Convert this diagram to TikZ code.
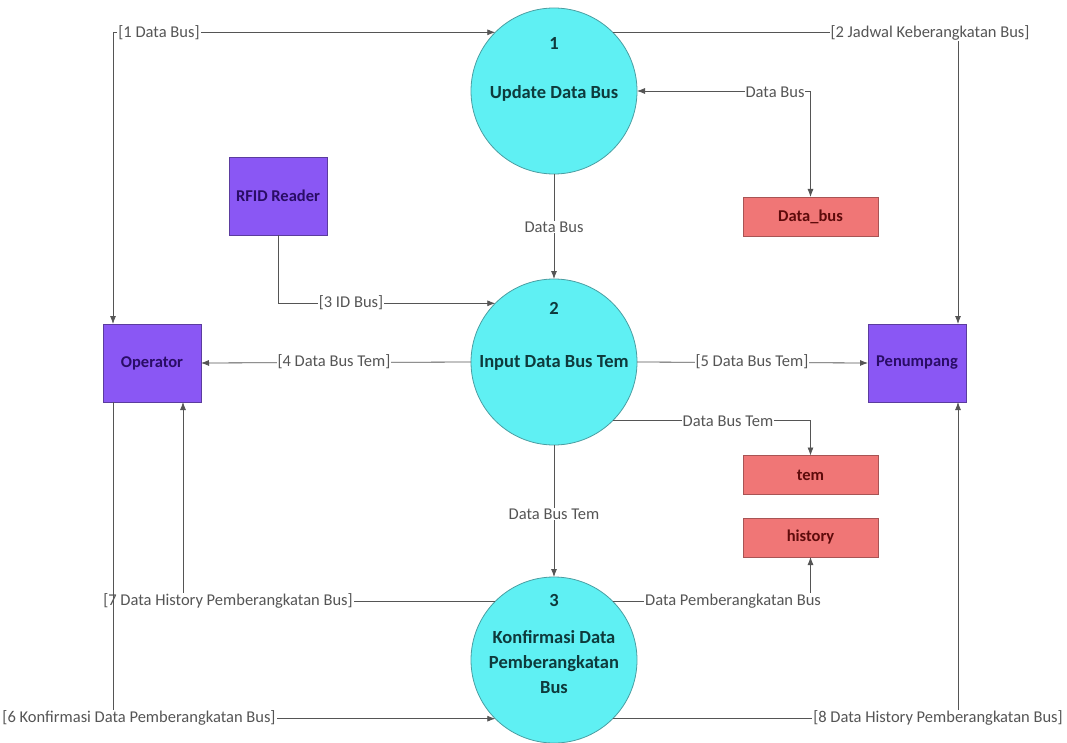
\documentclass[tikz,border=0pt]{standalone}
\usepackage{fontspec}
\setmainfont{Carlito}
\usetikzlibrary{arrows.meta,calc}
\definecolor{procfill}{HTML}{5FF0F3}
\definecolor{procline}{HTML}{4A9EA2}
\definecolor{proctext}{HTML}{0E3A3C}
\definecolor{entfill}{HTML}{8A57F4}
\definecolor{entline}{HTML}{5B3C9E}
\definecolor{enttext}{HTML}{2A0D66}
\definecolor{storefill}{HTML}{F07676}
\definecolor{storeline}{HTML}{A85454}
\definecolor{storetext}{HTML}{5E0B0B}
\definecolor{flow}{HTML}{555555}
\begin{document}
\begin{tikzpicture}[x=1pt,y=-1pt,
  process/.style={circle, draw=procline, fill=procfill, line width=0.8pt,
    minimum size=166pt, inner sep=0pt, outer sep=0pt},
  ptext/.style={font=\bfseries\fontsize{18.5}{25}\selectfont, text=proctext, align=center},
  entity/.style={rectangle, draw=entline, fill=entfill, line width=0.8pt,
    minimum width=98pt, minimum height=78pt, inner sep=0pt, outer sep=0pt,
    font=\bfseries\fontsize{16.5}{19}\selectfont, text=enttext},
  store/.style={rectangle, draw=storeline, fill=storefill, line width=0.8pt,
    minimum width=135pt, minimum height=39pt, inner sep=0pt, outer sep=0pt,
    font=\bfseries\fontsize{16.5}{19}\selectfont, text=storetext},
  flowline/.style={draw=flow, line width=0.8pt},
  tip/.style={-{Latex[length=8pt,width=6pt]}},
  tips/.style={{Latex[length=8pt,width=6pt]}-{Latex[length=8pt,width=6pt]}},
  lbl/.style={fill=white, inner sep=1pt, text=flow, font=\fontsize{16.5}{19}\selectfont}]

\useasboundingbox[fill=white] (0,0) rectangle (1067,743);

% processes
\node[process] (c1) at (554,91) {};
\node[process] (c2) at (554,362) {};
\node[process] (c3) at (554,660) {};
\node[ptext] (t1n) at (554,43) {1};
\node[ptext] (t1) at (554,93) {Update Data Bus};
\node[ptext] (t2n) at (554,308) {2};
\node[ptext] (t2) at (554,363) {Input Data Bus Tem};
\node[ptext] (t3n) at (554,600) {3};
\node[ptext] (t3) at (554,662) {Konfirmasi Data\\Pemberangkatan\\Bus};

% external entities
\node[entity] (rfid) at (278,196) {RFID Reader};
\node[entity] (op) at (152,363) {Operator};
\node[entity] (pen) at (917,363) {Penumpang};

% data stores
\node[store] (db) at (810.5,216.5) {Data\_bus};
\node[store] (tem) at (810.5,475) {tem};
\node[store] (hist) at (810.5,537.5) {history};

% flows
\draw[flowline,tips] ([xshift=10pt]op.north west) |- (c1.135);
\node[lbl] (f1) at (159,33) {[1 Data Bus]};

\draw[flowline,tip] (c1.45) -| ([xshift=-8pt]pen.north east);
\node[lbl] (f2) at (930,33) {[2 Jadwal Keberangkatan Bus]};

\draw[flowline,tips] (c1.east) -| (db.north);
\node[lbl] (f3) at (775,92) {Data Bus};

\draw[flowline,tip] (c1.south) -- (c2.north);
\node[lbl] (f4) at (554,227) {Data Bus};

\draw[flowline,tip] (rfid.south) |- (c2.135);
\node[lbl] (f5) at (351,303) {[3 ID Bus]};

\draw[flowline,tip] (c2.west) -- (op.east);
\node[lbl] (f6) at (334,362) {[4 Data Bus Tem]};

\draw[flowline,tip] (c2.east) -- (pen.west);
\node[lbl] (f7) at (752,362) {[5 Data Bus Tem]};

\draw[flowline,tip] (c2.-45) -| (tem.north);
\node[lbl] (f8) at (728,421) {Data Bus Tem};

\draw[flowline,tip] (c2.south) -- (c3.north);
\node[lbl] (f9) at (554,514) {Data Bus Tem};

\draw[flowline,tip] (c3.45) -| (hist.south);
\node[lbl] (f10) at (733,601) {Data Pemberangkatan Bus};

\draw[flowline,tip] (c3.135) -| ([xshift=-18pt]op.south east);
\node[lbl] (f11) at (228,601) {[7 Data History Pemberangkatan Bus]};

\draw[flowline,tip] ([xshift=10pt]op.south west) |- (c3.-135);
\node[lbl] (f12) at (139,718) {[6 Konfirmasi Data Pemberangkatan Bus]};

\draw[flowline,tip] (c3.-45) -| ([xshift=-8pt]pen.south east);
\node[lbl] (f13) at (938,718) {[8 Data History Pemberangkatan Bus]};

\end{tikzpicture}
\end{document}
